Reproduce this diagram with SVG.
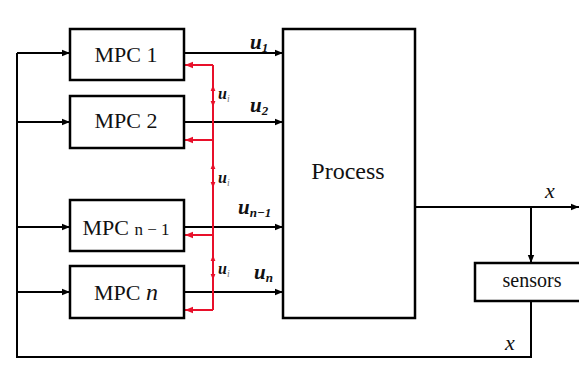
<svg xmlns="http://www.w3.org/2000/svg" width="579" height="365" viewBox="0 0 579 365">
<style>
.box{fill:#fff;stroke:#000;stroke-width:2.5}
.ln{fill:none;stroke:#000;stroke-width:2}
.rd{fill:none;stroke:#e8102a;stroke-width:2}
.t{font-family:"Liberation Serif",serif;fill:#111}
.u{font-family:"Liberation Serif",serif;font-weight:bold;font-style:italic;font-size:21px;fill:#111}
.s{font-size:13px}
.ui{font-family:"Liberation Serif",serif;font-weight:bold;font-style:italic;font-size:16px;fill:#111}
.si{font-size:10px;font-weight:normal;fill:#777}
</style>
<defs>
<marker id="ah2" viewBox="0 0 10 10" refX="10" refY="5" markerWidth="8" markerHeight="8" orient="auto" markerUnits="userSpaceOnUse">
<path d="M0,1 L10,5 L0,9 z" fill="#000"/>
</marker>
<marker id="ar" viewBox="0 0 10 10" refX="10" refY="5" markerWidth="8" markerHeight="8" orient="auto" markerUnits="userSpaceOnUse">
<path d="M0,1 L10,5 L0,9 z" fill="#e8102a"/>
</marker>
<marker id="ars" viewBox="0 0 10 10" refX="10" refY="5" markerWidth="6" markerHeight="6" orient="auto" markerUnits="userSpaceOnUse">
<path d="M0,1 L10,5 L0,9 z" fill="#e8102a"/>
</marker>
</defs>
<rect width="579" height="365" fill="#fff"/>
<g id="connectors">
<path class="ln" d="M17,53 V357 H531 V301"/>
<path class="ln" d="M17,53 H70" marker-end="url(#ah2)"/>
<path class="ln" d="M17,122 H70" marker-end="url(#ah2)"/>
<path class="ln" d="M17,227 H70" marker-end="url(#ah2)"/>
<path class="ln" d="M17,292 H70" marker-end="url(#ah2)"/>
<path class="ln" d="M184,53 H283" marker-end="url(#ah2)"/>
<path class="ln" d="M184,122 H283" marker-end="url(#ah2)"/>
<path class="ln" d="M184,227 H283" marker-end="url(#ah2)"/>
<path class="ln" d="M184,292 H283" marker-end="url(#ah2)"/>
<path class="ln" d="M415,207 H579" marker-end="url(#ah2)"/>
<path class="ln" d="M531,207 V263" marker-end="url(#ah2)"/>
<path class="rd" d="M213,65 V310"/>
<path class="rd" d="M213,65 H185" marker-end="url(#ar)"/>
<path class="rd" d="M213,140 H185" marker-end="url(#ar)"/>
<path class="rd" d="M213,235 H185" marker-end="url(#ar)"/>
<path class="rd" d="M213,310 H185" marker-end="url(#ar)"/>
<path class="rd" d="M213,92 V85" marker-end="url(#ars)"/>
<path class="rd" d="M213,100 V107" marker-end="url(#ars)"/>
<path class="rd" d="M213,170 V163" marker-end="url(#ars)"/>
<path class="rd" d="M213,181 V188" marker-end="url(#ars)"/>
<path class="rd" d="M213,262 V255" marker-end="url(#ars)"/>
<path class="rd" d="M213,273 V280" marker-end="url(#ars)"/>
<text class="ui" x="218" y="99">u<tspan class="si" dy="3">i</tspan></text>
<text class="ui" x="218" y="183">u<tspan class="si" dy="3">i</tspan></text>
<text class="ui" x="218" y="274">u<tspan class="si" dy="3">i</tspan></text>
<text class="u" x="250" y="49">u<tspan class="s" dy="3">1</tspan></text>
<text class="u" x="250" y="112">u<tspan class="s" dy="3">2</tspan></text>
<text class="u" x="238" y="214">u<tspan class="s" dy="3">n−1</tspan></text>
<text class="u" x="254" y="279">u<tspan class="s" dy="3">n</tspan></text>
<text class="t" x="545" y="198" font-size="22" font-style="italic">x</text>
<text class="t" x="505" y="350" font-size="22" font-style="italic">x</text>
</g>
<g id="mpc1">
<rect class="box" x="70" y="29" width="114" height="51"/>
<text class="t" x="126" y="62" font-size="22" text-anchor="middle">MPC 1</text>
</g>
<g id="mpc2">
<rect class="box" x="70" y="96" width="114" height="52"/>
<text class="t" x="126" y="128" font-size="22" text-anchor="middle">MPC 2</text>
</g>
<g id="mpcn1">
<rect class="box" x="70" y="200" width="114" height="51"/>
<text class="t" x="126" y="235" font-size="22" text-anchor="middle">MPC <tspan font-size="17">n − 1</tspan></text>
</g>
<g id="mpcn">
<rect class="box" x="70" y="266" width="114" height="52"/>
<text class="t" x="126" y="300" font-size="22" text-anchor="middle">MPC <tspan font-style="italic" font-size="24">n</tspan></text>
</g>
<g id="process">
<rect class="box" x="283" y="29" width="132" height="289"/>
<text class="t" x="348" y="179" font-size="24" text-anchor="middle">Process</text>
</g>
<g id="sensors">
<rect class="box" x="475" y="263" width="108" height="38"/>
<text class="t" x="532" y="287" font-size="20" text-anchor="middle">sensors</text>
</g>
</svg>
